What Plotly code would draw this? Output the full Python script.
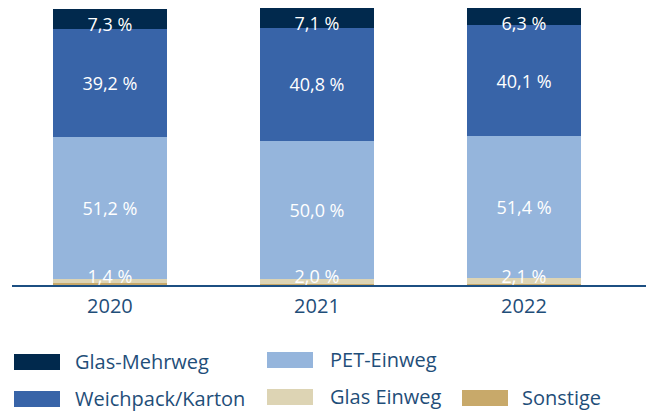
import plotly.graph_objects as go

years = ["2020", "2021", "2022"]
glas_mehrweg = [7.3, 7.1, 6.3]
weichpack_karton = [39.2, 40.8, 40.1]
pet_einweg = [51.2, 50.0, 51.4]
glas_einweg = [1.4, 2.0, 2.1]
sonstige = [0.9, 0.2, 0.3]

# page has an 8px body margin: figure is placed at (8, 8)
OFF = 8
W, H = 654 - OFF, 412 - OFF
ML, MR, MT = 12 - OFF, 0, 8 - OFF
PLOT_BOTTOM = 285 - OFF
MB = H - PLOT_BOTTOM
PW, PH = W - ML - MR, H - MT - MB

TXT = "#1f4e79"
FONT = "Open Sans"

def fmt(v):
    return f"{v:.1f}".replace(".", ",") + " %"

def px(x):
    return (x - OFF - ML) / PW

def py(y):
    return (PLOT_BOTTOM - (y - OFF)) / PH

series = [
    ("Sonstige", sonstige, "#c8a96a", False, "middle"),
    ("Glas Einweg", glas_einweg, "#ddd4b4", False, "middle"),
    ("PET-Einweg", pet_einweg, "#95b5dc", True, "middle"),
    ("Weichpack/Karton", weichpack_karton, "#3864a8", True, "middle"),
    ("Glas-Mehrweg", glas_mehrweg, "#01294d", True, "end"),
]

fig = go.Figure()
for name, vals, color, lab, anchor in series:
    fig.add_trace(go.Bar(
        x=years, y=vals, name=name,
        marker=dict(color=color, line=dict(width=0)),
        text=[fmt(v) for v in vals] if lab else None,
        textposition="inside" if lab else "none",
        insidetextanchor=anchor,
        textangle=0,
        constraintext="none",
        textfont=dict(family=FONT, size=18, color="white"),
        hovertemplate=name + ": %{y}<extra></extra>",
    ))

# labels for the thin Glas Einweg segment
ge_top = [s + g for s, g in zip(sonstige, glas_einweg)]
fig.add_trace(go.Scatter(
    x=years, y=ge_top, mode="text",
    text=[fmt(v) for v in glas_einweg],
    textposition="middle center",
    textfont=dict(family=FONT, size=18, color="white"),
    hoverinfo="skip", showlegend=False,
))

totals = [a + b + c + d + e for a, b, c, d, e in
          zip(sonstige, glas_einweg, pet_einweg, weichpack_karton, glas_mehrweg)]

# manual legend (reference page pixel positions)
legend_items = [
    ("Glas-Mehrweg", "#01294d", 14, 354, 73),
    ("Weichpack/Karton", "#3864a8", 14, 391, 73),
    ("PET-Einweg", "#95b5dc", 267, 352, 328),
    ("Glas Einweg", "#ddd4b4", 267, 389, 328),
    ("Sonstige", "#c8a96a", 462, 390, 520),
]
for name, color, sx, sy, tx in legend_items:
    fig.add_shape(type="rect", xref="paper", yref="paper",
                  x0=px(sx), x1=px(sx + 46), y0=py(sy + 16), y1=py(sy),
                  fillcolor=color, line=dict(width=0), layer="above")
    fig.add_annotation(xref="paper", yref="paper", x=px(tx), y=py(sy + 7),
                       text=name, showarrow=False, xanchor="left", yanchor="middle",
                       font=dict(family=FONT, size=20, color=TXT))

fig.update_layout(
    width=W, height=H,
    margin=dict(l=ML, r=MR, t=MT, b=MB, pad=0),
    barmode="stack", bargap=0.45,
    plot_bgcolor="white", paper_bgcolor="white",
    showlegend=False,
    xaxis=dict(type="category", range=[-0.473, 2.628], showline=True,
               linecolor="#1c4f82", linewidth=2, ticks="", showgrid=False,
               ticklabelstandoff=2,
               tickfont=dict(family=FONT, size=20, color=TXT), fixedrange=True),
    yaxis=dict(range=[0, max(totals)], visible=False, fixedrange=True),
)

fig.write_html("out.html")
